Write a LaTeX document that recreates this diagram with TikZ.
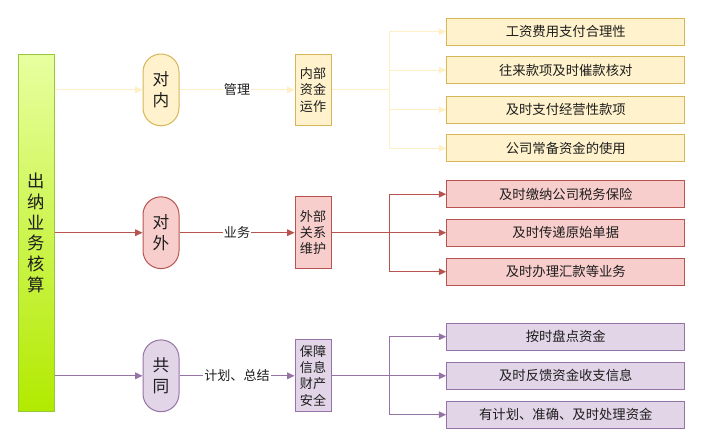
\documentclass[tikz,border=0pt]{standalone}
\usepackage{fontspec}
\setmainfont{Noto Sans CJK SC}
\usetikzlibrary{arrows.meta,positioning}
\definecolor{yfill}{HTML}{FFF2CC}
\definecolor{ydraw}{HTML}{D6B656}
\definecolor{yline}{HTML}{FFEFC4}
\definecolor{rfill}{HTML}{F8CECC}
\definecolor{rdraw}{HTML}{B85450}
\definecolor{pfill}{HTML}{E1D5E7}
\definecolor{pdraw}{HTML}{9673A6}
\definecolor{gtop}{RGB}{232,255,160}
\definecolor{gbot}{RGB}{178,234,0}
\definecolor{gdraw}{RGB}{150,200,60}
\definecolor{txt}{RGB}{30,30,30}
\tikzset{
  base/.style={text=txt, align=center, inner sep=0pt, line width=0.75pt},
  pill/.style={base, minimum width=27pt, minimum height=53.8pt, rounded corners=13.4pt, font=\fontsize{12.5pt}{16pt}\selectfont},
  midbox/.style={base, minimum width=27pt, minimum height=53.8pt, font=\fontsize{9.8pt}{12.2pt}\selectfont},
  leaf/.style={base, minimum width=178.7pt, minimum height=20pt, font=\fontsize{10pt}{12pt}\selectfont},
  ycol/.style={fill=yfill, draw=ydraw},
  rcol/.style={fill=rfill, draw=rdraw},
  pcol/.style={fill=pfill, draw=pdraw},
  lbl/.style={text=txt, fill=white, inner sep=1pt, font=\fontsize{9.8pt}{12pt}\selectfont},
  conn/.style={line width=0.75pt, -{Triangle[length=5.5pt,width=5pt]}},
  yconn/.style={conn, draw=yline},
  rconn/.style={conn, draw=rdraw},
  pconn/.style={conn, draw=pdraw},
}
\begin{document}
\begin{tikzpicture}[x=0.75pt,y=-0.75pt]
\useasboundingbox (0,0) rectangle (703,447);
% main bar
\node[base, minimum width=27pt, minimum height=268pt, top color=gtop, bottom color=gbot, draw=gdraw,
  font=\fontsize{13pt}{15.5pt}\selectfont] (bar) at (36,232.8) {出\\纳\\业\\务\\核\\算};
% pills
\node[pill, ycol] (o1) at (161,89.9) {对\\内};
\node[pill, rcol] (o2) at (161,232.7) {对\\外};
\node[pill, pcol] (o3) at (161,375.8) {共\\同};
% middle boxes
\node[midbox, ycol] (m1) at (313,89.9) {内部\\资金\\运作};
\node[midbox, rcol] (m2) at (313,232.7) {外部\\关系\\维护};
\node[midbox, pcol] (m3) at (313,375.8) {保障\\信息\\财产\\安全};
% leaves
\node[leaf, ycol] (y1) at (565.8,31.7) {工资费用支付合理性};
\node[leaf, ycol] (y2) at (565.8,70) {往来款项及时催款核对};
\node[leaf, ycol] (y3) at (565.8,109.7) {及时支付经营性款项};
\node[leaf, ycol] (y4) at (565.8,148.3) {公司常备资金的使用};
\node[leaf, rcol] (r1) at (565.8,194.2) {及时缴纳公司税务保险};
\node[leaf, rcol] (r2) at (565.8,232.7) {及时传递原始单据};
\node[leaf, rcol] (r3) at (565.8,271.7) {及时办理汇款等业务};
\node[leaf, pcol] (p1) at (565.8,336.7) {按时盘点资金};
\node[leaf, pcol] (p2) at (565.8,375.8) {及时反馈资金收支信息};
\node[leaf, pcol] (p3) at (565.8,414.7) {有计划、准确、及时处理资金};
% junctions
\coordinate (j1) at (389,89.9);
\coordinate (j2) at (389,232.7);
\coordinate (j3) at (389,375.8);
% bar to pills
\draw[yconn] (bar.east |- o1) -- (o1);
\draw[rconn] (bar.east |- o2) -- (o2);
\draw[pconn] (bar.east |- o3) -- (o3);
% pills to mid boxes
\draw[yconn] (o1) -- node[lbl] {管理} (m1);
\draw[rconn] (o2) -- node[lbl] {业务} (m2);
\draw[pconn] (o3) -- node[lbl] {计划、总结} (m3);
% branches
\draw[yline, line width=0.75pt] (m1) -- (j1);
\draw[yconn] (j1) |- (y1);
\draw[yconn] (j1) |- (y2);
\draw[yconn] (j1) |- (y3);
\draw[yconn] (j1) |- (y4);
\draw[rdraw, line width=0.75pt] (m2) -- (j2);
\draw[rconn] (j2) |- (r1);
\draw[rconn] (j2) -- (r2);
\draw[rconn] (j2) |- (r3);
\draw[pdraw, line width=0.75pt] (m3) -- (j3);
\draw[pconn] (j3) |- (p1);
\draw[pconn] (j3) -- (p2);
\draw[pconn] (j3) |- (p3);
\end{tikzpicture}
\end{document}
